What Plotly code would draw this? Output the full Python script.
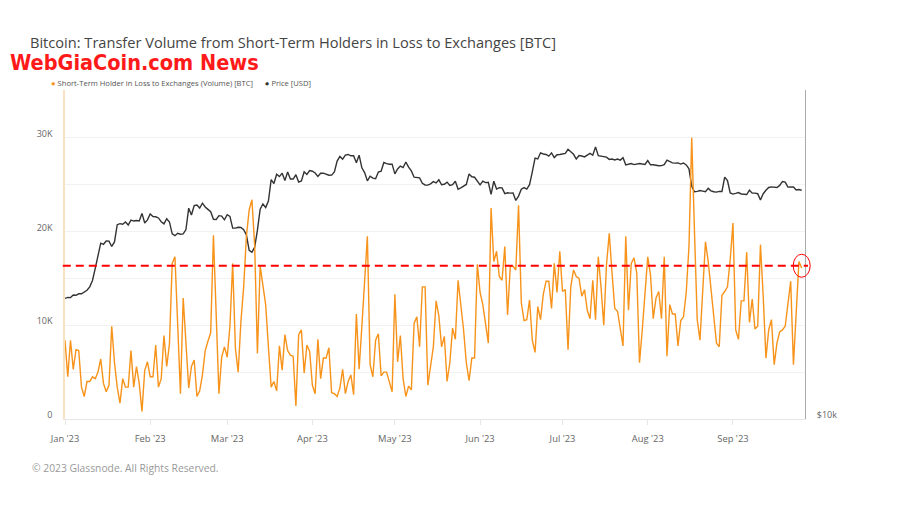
import pandas as pd
import plotly.graph_objects as go

START_DATE = "2023-01-01"

# Short-Term Holder in Loss to Exchanges (Volume) [BTC], daily, in thousands
sth_loss_volume_k = [
    8.4, 4.5, 8.4, 5.3, 7.4, 7.3, 3.4, 2.4, 4.0, 4.0,
    4.5, 4.3, 5.0, 6.4, 3.8, 2.9, 3.6, 9.9, 6.0, 3.4,
    1.7, 4.3, 3.4, 3.4, 7.3, 3.4, 5.6, 3.8, 0.8, 5.2,
    6.1, 4.5, 4.5, 7.9, 3.4, 4.3, 8.9, 5.6, 8.0, 16.6,
    17.3, 9.0, 2.7, 12.9, 7.5, 3.3, 5.6, 6.3, 2.4, 3.0,
    4.7, 7.3, 8.3, 9.2, 19.6, 11.0, 2.7, 6.6, 7.7, 6.6,
    9.9, 16.6, 7.5, 5.0, 10.4, 14.1, 19.5, 22.3, 23.4, 18.5,
    7.0, 16.3, 14.2, 12.2, 7.7, 3.4, 4.0, 3.0, 7.8, 5.2,
    9.0, 7.3, 6.8, 6.7, 1.4, 9.0, 9.5, 4.9, 7.9, 7.2,
    3.6, 2.7, 8.5, 4.3, 6.5, 6.5, 7.6, 2.8, 2.7, 2.4,
    3.3, 5.3, 2.7, 4.0, 4.7, 2.6, 11.2, 5.3, 9.9, 14.8,
    19.5, 5.8, 4.5, 8.4, 9.1, 4.6, 5.0, 5.0, 3.8, 2.9,
    13.3, 6.1, 8.9, 4.3, 2.4, 3.5, 3.1, 10.2, 10.9, 7.7,
    14.1, 14.1, 3.6, 5.6, 7.7, 12.6, 11.0, 7.7, 8.8, 4.0,
    6.0, 9.7, 8.5, 14.8, 12.4, 9.5, 6.0, 4.1, 6.5, 6.5,
    16.5, 13.5, 12.2, 9.9, 8.1, 22.5, 16.8, 17.9, 15.2, 14.8,
    18.4, 11.1, 16.3, 16.3, 15.9, 22.8, 12.4, 10.5, 10.6, 12.7,
    8.4, 7.1, 12.0, 10.6, 13.3, 14.7, 14.7, 11.8, 16.6, 13.5,
    17.9, 13.6, 13.8, 7.4, 14.1, 15.9, 15.2, 15.0, 13.1, 13.8,
    11.6, 10.7, 14.8, 10.6, 17.3, 14.1, 10.0, 16.5, 19.8, 15.6,
    11.8, 11.5, 9.5, 7.8, 19.5, 11.6, 16.6, 17.2, 15.6, 6.0,
    9.5, 13.1, 17.3, 15.4, 10.7, 12.9, 13.6, 10.7, 17.3, 6.7,
    12.2, 11.2, 11.2, 7.8, 10.5, 10.9, 13.5, 18.4, 30.0, 20.0,
    10.6, 8.4, 14.1, 18.9, 16.8, 14.1, 11.1, 8.1, 7.7, 13.2,
    13.6, 14.1, 17.0, 20.9, 9.5, 8.5, 12.6, 12.6, 17.8, 10.3,
    12.8, 9.6, 9.9, 18.6, 13.1, 6.5, 9.5, 10.6, 5.8, 8.1,
    9.3, 9.5, 9.9, 12.4, 14.7, 5.8, 11.6, 16.8, 16.1,
]

# Price [USD], daily
price_usd = [
    # Jan
    16625, 16690, 16680, 16860, 16840, 16950, 16950, 17090, 17200, 17450,
    17930, 18870, 19910, 20980, 20880, 21170, 21160, 20690, 21090, 22680,
    22780, 22720, 22930, 22640, 23120, 23030, 23080, 23030, 23780, 22840, 23140,
    # Feb
    23720, 23470, 23450, 23330, 22960, 22760, 23260, 22940, 21820, 21650,
    21870, 21790, 21810, 22220, 24310, 23620, 24570, 24640, 24330, 24830,
    24440, 24190, 23950, 23200, 23180, 23560, 23520, 23150,
    # Mar
    23650, 23480, 22360, 22350, 22430, 22410, 22200, 21710, 20360, 20190,
    20630, 22160, 24200, 24750, 24380, 25050, 27420, 26970, 28040, 27770,
    28180, 27310, 28330, 27490, 27490, 27990, 27140, 27270, 28350, 28030, 28480,
    # Apr
    28410, 28200, 27790, 28170, 28180, 28040, 27930, 27950, 28330, 29650,
    30240, 29880, 30400, 30490, 30320, 30320, 29450, 30400, 28820, 28250,
    27280, 27820, 27590, 27530, 28310, 28420, 29470, 29340, 29250, 29270,
    # May
    28090, 28680, 29030, 28850, 29530, 28900, 28450, 27700, 27650, 27620,
    27000, 26810, 26790, 26930, 27190, 27040, 27400, 26830, 26890, 27130,
    26750, 26850, 27230, 26330, 26480, 26720, 26870, 28090, 27750, 27700, 27220,
    # Jun
    26820, 27250, 27080, 27120, 25760, 27240, 26350, 26510, 26480, 25850,
    25940, 25900, 25920, 25120, 25580, 26330, 26510, 26340, 26850, 28330,
    30030, 29910, 30700, 30550, 30480, 30270, 30690, 30090, 30450, 30480,
    # Jul
    30590, 30620, 31160, 30780, 30510, 29910, 30350, 30290, 30170, 30410,
    30620, 30390, 31480, 30340, 30300, 30250, 30150, 29860, 29910, 29790,
    29910, 29770, 30080, 29180, 29230, 29350, 29210, 29310, 29350, 29280, 29230,
    # Aug
    29710, 29190, 29190, 29110, 29070, 29090, 29200, 29770, 29560, 29430,
    29400, 29420, 29280, 29410, 29170, 28700, 26660, 26050, 26100, 26190,
    26130, 26050, 26430, 26160, 26060, 26020, 26100, 26090, 27720, 27300, 25930,
    # Sep
    25800, 25870, 25970, 25810, 25780, 25750, 26230, 25900, 25900, 25840,
    25160, 25840, 26220, 26530, 26600, 26570, 26530, 26760, 27210, 27130,
    26570, 26580, 26580, 26250, 26300, 26220,
]

month_ticks = ["2023-01-01", "2023-02-01", "2023-03-01", "2023-04-01", "2023-05-01",
               "2023-06-01", "2023-07-01", "2023-08-01", "2023-09-01"]
month_labels = ["Jan '23", "Feb '23", "Mar '23", "Apr '23", "May '23",
                "Jun '23", "Jul '23", "Aug '23", "Sep '23"]
btc_tick_vals = [0, 5000, 10000, 15000, 20000, 25000, 30000]
btc_tick_text = ["0", "", "10K", "", "20K", "", "30K"]
price_tick_vals = [10000]
price_tick_text = ["$10k"]
threshold_btc = 16350

dates = pd.date_range(START_DATE, periods=len(sth_loss_volume_k), freq="D")
volume_btc = [v * 1000 for v in sth_loss_volume_k]

X_RANGE = [pd.Timestamp("2023-01-01"), pd.Timestamp("2023-09-27 05:00")]
ORANGE = "#f7931a"
DARK = "#333333"
FONT = "Open Sans, Noto Sans, sans-serif"
TICK_FONT = dict(family=FONT, size=9, color="#666666")

# the page body adds an 8px offset; the figure is laid out 8px smaller accordingly
W, H = 889, 497

fig = go.Figure()
fig.add_trace(go.Scatter(
    x=dates, y=price_usd, name="Price [USD]", mode="lines",
    line=dict(color=DARK, width=1.4), yaxis="y",
))
fig.add_trace(go.Scatter(
    x=dates, y=volume_btc, name="Short-Term Holder in Loss to Exchanges (Volume) [BTC]",
    mode="lines", line=dict(color=ORANGE, width=1.4), yaxis="y2",
))

span = (X_RANGE[1] - X_RANGE[0]).total_seconds()
last_frac = (dates[-1] - X_RANGE[0]).total_seconds() / span

fig.update_layout(
    width=W, height=H,
    margin=dict(l=57, r=92, t=82, b=86),
    paper_bgcolor="white", plot_bgcolor="white",
    showlegend=False,
    font=dict(family=FONT),
    title=dict(
        text="Bitcoin: Transfer Volume from Short-Term Holders in Loss to Exchanges [BTC]",
        xref="container", yref="container", x=22 / W, y=1 - 35 / H,
        xanchor="left", yanchor="middle",
        font=dict(family=FONT, size=14.6, color="#444444"),
    ),
    xaxis=dict(
        type="date", range=X_RANGE,
        tickvals=month_ticks, ticktext=month_labels,
        tickfont=dict(family=FONT, size=9.4, color="#666666"),
        ticks="outside", ticklen=5, tickcolor="#e6e6e6", ticklabelstandoff=6,
        showgrid=False, showline=True, linecolor="#e6e6e6", linewidth=1,
        zeroline=False,
    ),
    yaxis=dict(  # price, right, log
        type="log", side="right", range=[4, 4.6021],
        tickvals=price_tick_vals, ticktext=price_tick_text,
        tickfont=TICK_FONT, ticklabelshift=-4, ticklabelstandoff=9,
        showgrid=False, showline=True, linecolor="#aaaaaa", linewidth=1,
        zeroline=False, ticks="",
    ),
    yaxis2=dict(  # BTC volume, left
        overlaying="y", side="left", range=[0, 35100],
        tickvals=btc_tick_vals, ticktext=btc_tick_text,
        tickfont=TICK_FONT, ticklabelshift=-4, ticklabelstandoff=9,
        showgrid=True, gridcolor="#f1f1f1", gridwidth=1,
        showline=True, linecolor="#f8e2c2", linewidth=1.5,
        zeroline=False, ticks="",
    ),
    shapes=[
        dict(type="line", xref="paper", yref="y2",
             x0=-0.003, x1=1.004, y0=threshold_btc, y1=threshold_btc,
             line=dict(color="#ff0000", width=2, dash="8px,5px"), layer="above"),
        dict(type="circle", xref="paper", yref="y2",
             xsizemode="pixel", ysizemode="pixel",
             xanchor=last_frac, yanchor=threshold_btc,
             x0=-8.5, x1=8.5, y0=-11.5, y1=11.5,
             line=dict(color="#ff0000", width=1), layer="above"),
    ],
    annotations=[
        dict(text="WebGiaCoin.com News", xref="paper", yref="paper",
             x=(8 - 65) / 740, y=(419 - 62) / 329, xanchor="left", yanchor="middle",
             showarrow=False,
             font=dict(family="Liberation Sans Narrow, DejaVu Sans Condensed, Roboto, sans-serif",
                       size=21.5, color="#ff1a1a", weight="bold")),
        dict(text="<span style='color:%s'>●</span> Short-Term Holder in Loss to Exchanges (Volume) [BTC]"
                  "      <span style='color:%s'>●</span> Price [USD]" % (ORANGE, DARK),
             xref="paper", yref="paper", x=(49 - 65) / 740, y=(419 - 83) / 329,
             xanchor="left", yanchor="middle", showarrow=False,
             font=dict(family=FONT, size=7.6, color="#555555")),
        dict(text="© 2023 Glassnode. All Rights Reserved.", xref="paper", yref="paper",
             x=(30 - 65) / 740, y=(419 - 468) / 329, xanchor="left", yanchor="middle",
             showarrow=False,
             font=dict(family=FONT, size=10.3, color="#999999")),
    ],
)

fig.write_html("out.html")
